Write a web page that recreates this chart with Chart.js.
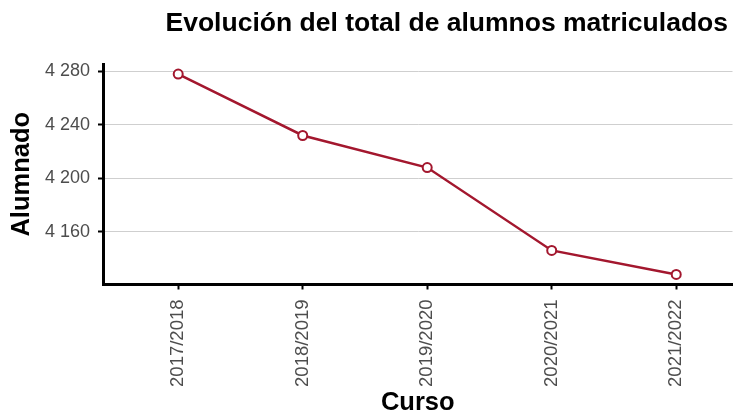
<!DOCTYPE html>
<html>
<head>
<meta charset="utf-8">
<script src="https://cdn.jsdelivr.net/npm/chart.js@4.4.1/dist/chart.umd.min.js"></script>
<style>
    html, body { margin: 0; padding: 0; background: #fff; }
</style>
</head>
<body>
<canvas id="grafico" width="739" height="416"></canvas>
<script>
// Datos del gráfico
const cursos = ['2017/2018', '2018/2019', '2019/2020', '2020/2021', '2021/2022'];
const alumnado = [4278, 4232, 4208, 4146, 4128];
const ticksAlumnado = [4160, 4200, 4240, 4280];
const titulo = 'Evolución del total de alumnos matriculados';

const fuente = '"Liberation Sans", Arial, Helvetica, sans-serif';
const colorLinea = '#a3172e';

// Formato con espacio como separador de miles (4 280)
function formatoMiles(v) {
    return String(v).replace(/\B(?=(\d{3})+(?!\d))/g, ' ');
}

// Título alineado a la derecha como en el original
const tituloPlugin = {
    id: 'tituloDerecha',
    afterDraw(chart) {
        const ctx = chart.ctx;
        ctx.save();
        ctx.font = 'bold 26.5px ' + fuente;
        ctx.fillStyle = '#000';
        ctx.textAlign = 'right';
        ctx.textBaseline = 'alphabetic';
        ctx.fillText(titulo, 728, 31);
        ctx.restore();
    }
};

const ctx = document.getElementById('grafico').getContext('2d');
new Chart(ctx, {
    type: 'line',
    data: {
        datasets: [{
            data: alumnado.map((v, i) => ({ x: i, y: v })),
            borderColor: colorLinea,
            borderWidth: 2.5,
            pointRadius: 4.5,
            pointBorderWidth: 2,
            pointBackgroundColor: '#fff',
            pointBorderColor: colorLinea,
            tension: 0
        }]
    },
    options: {
        responsive: false,
        animation: false,
        layout: { padding: { top: 64, left: 0, right: 0, bottom: 0 } },
        plugins: {
            legend: { display: false },
            tooltip: { enabled: false }
        },
        scales: {
            x: {
                type: 'linear',
                bounds: 'data',
                min: -0.604,
                max: 4.452,
                afterBuildTicks: axis => { axis.ticks = cursos.map((c, i) => ({ value: i })); },
                afterFit: axis => {
                    axis.height = 131.5;
                    axis.paddingLeft = 0;
                    axis.paddingRight = 0;
                },
                ticks: {
                    autoSkip: false,
                    minRotation: 90,
                    maxRotation: 90,
                    padding: 10,
                    color: '#4d4d4d',
                    font: { family: fuente, size: 18.5 },
                    callback: v => cursos[v]
                },
                grid: {
                    drawOnChartArea: false,
                    drawTicks: true,
                    tickLength: 5,
                    tickColor: '#000',
                    tickWidth: 2
                },
                border: { color: '#000', width: 3 },
                title: {
                    display: true,
                    text: 'Curso',
                    color: '#000',
                    font: { family: fuente, size: 25.5, weight: 'bold', lineHeight: 1 },
                    padding: { top: 0, bottom: 0 }
                }
            },
            y: {
                bounds: 'data',
                min: 4120.5,
                max: 4285.5,
                afterBuildTicks: axis => { axis.ticks = ticksAlumnado.map(v => ({ value: v })); },
                afterFit: axis => {
                    axis.width = 103;
                    axis.paddingTop = 0;
                    axis.paddingBottom = 0;
                },
                ticks: {
                    padding: 8,
                    color: '#4d4d4d',
                    font: { family: fuente, size: 18 },
                    callback: v => formatoMiles(v)
                },
                grid: {
                    color: '#cfcfcf',
                    lineWidth: 1,
                    tickLength: 5,
                    tickColor: '#000',
                    tickWidth: 2
                },
                border: { color: '#000', width: 3 },
                title: {
                    display: true,
                    text: 'Alumnado',
                    color: '#000',
                    font: { family: fuente, size: 25.5, weight: 'bold' },
                    padding: { top: 7, bottom: 0 }
                }
            }
        }
    },
    plugins: [tituloPlugin]
});
</script>
</body>
</html>
